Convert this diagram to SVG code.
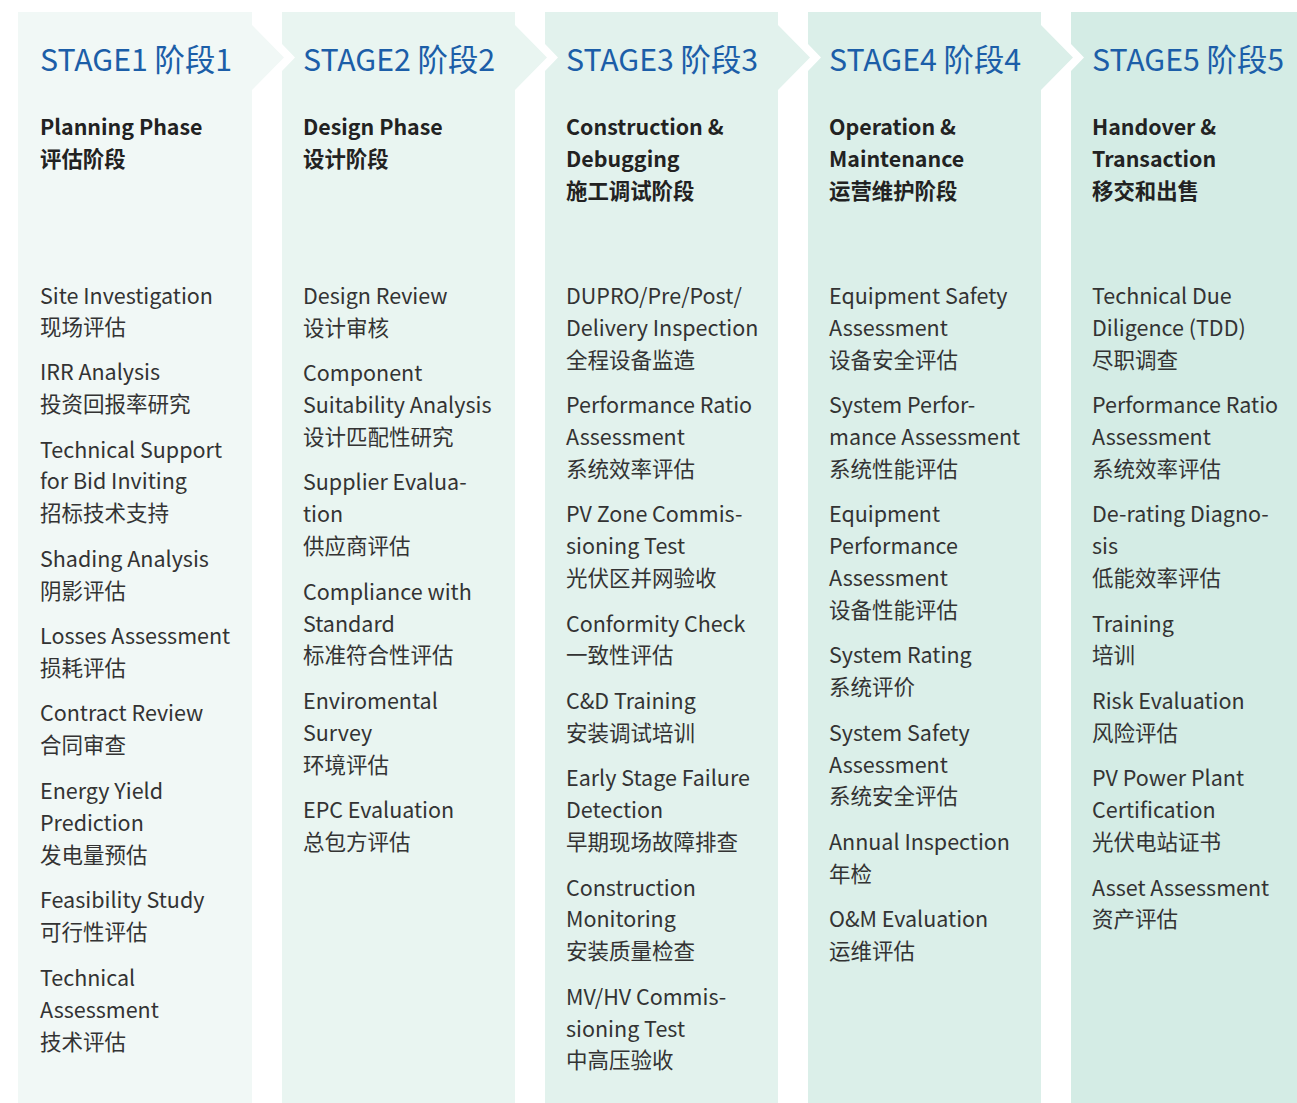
<svg xmlns="http://www.w3.org/2000/svg" width="1297" height="1103" viewBox="0 0 1297 1103">
<style>
text{font-family:"Noto Sans CJK SC","Noto Sans",sans-serif;}
.t{font-size:30.3px;fill:#1c5ea8;}
.h{font-size:21.4px;font-weight:bold;fill:#222;}
.i{font-size:21.5px;fill:#333;}
</style>
<rect width="1297" height="1103" fill="#ffffff"/>
<g id="stage1">
<polygon fill="#f1f8f6" points="18,12 252,12 252,25 284,57.5 252,90 252,1103 18,1103"/>
<text class="t" x="40" y="71">STAGE1 阶段1</text>
<text class="h" transform="translate(0,1)"><tspan x="40" y="134">Planning Phase</tspan><tspan x="40" y="166">评估阶段</tspan></text>
<text class="i" transform="translate(0,1)">
<tspan x="40" y="303">Site Investigation</tspan><tspan x="40" y="334">现场评估</tspan>
<tspan x="40" y="379">IRR Analysis</tspan><tspan x="40" y="411">投资回报率研究</tspan>
<tspan x="40" y="457">Technical Support</tspan><tspan x="40" y="488">for Bid Inviting</tspan><tspan x="40" y="520">招标技术支持</tspan>
<tspan x="40" y="566">Shading Analysis</tspan><tspan x="40" y="598">阴影评估</tspan>
<tspan x="40" y="643">Losses Assessment</tspan><tspan x="40" y="675">损耗评估</tspan>
<tspan x="40" y="720">Contract Review</tspan><tspan x="40" y="752">合同审查</tspan>
<tspan x="40" y="798">Energy Yield</tspan><tspan x="40" y="830">Prediction</tspan><tspan x="40" y="862">发电量预估</tspan>
<tspan x="40" y="907">Feasibility Study</tspan><tspan x="40" y="939">可行性评估</tspan>
<tspan x="40" y="985">Technical</tspan><tspan x="40" y="1017">Assessment</tspan><tspan x="40" y="1049">技术评估</tspan>
</text>
</g>
<g id="stage2">
<polygon fill="#e9f5f1" points="282,12 515,12 515,25 547,57.5 515,90 515,1103 282,1103 282,71 295,57.5 282,44"/>
<text class="t" x="303" y="71">STAGE2 阶段2</text>
<text class="h" transform="translate(0,1)"><tspan x="303" y="134">Design Phase</tspan><tspan x="303" y="166">设计阶段</tspan></text>
<text class="i" transform="translate(0,1)">
<tspan x="303" y="303">Design Review</tspan><tspan x="303" y="335">设计审核</tspan>
<tspan x="303" y="380">Component</tspan><tspan x="303" y="412">Suitability Analysis</tspan><tspan x="303" y="444">设计匹配性研究</tspan>
<tspan x="303" y="489">Supplier Evalua-</tspan><tspan x="303" y="521">tion</tspan><tspan x="303" y="553">供应商评估</tspan>
<tspan x="303" y="599">Compliance with</tspan><tspan x="303" y="631">Standard</tspan><tspan x="303" y="662">标准符合性评估</tspan>
<tspan x="303" y="708">Enviromental</tspan><tspan x="303" y="740">Survey</tspan><tspan x="303" y="772">环境评估</tspan>
<tspan x="303" y="817">EPC Evaluation</tspan><tspan x="303" y="849">总包方评估</tspan>
</text>
</g>
<g id="stage3">
<polygon fill="#e2f2ed" points="545,12 778,12 778,25 810,57.5 778,90 778,1103 545,1103 545,71 558,57.5 545,44"/>
<text class="t" x="566" y="71">STAGE3 阶段3</text>
<text class="h" transform="translate(0,1)"><tspan x="566" y="134">Construction &amp;</tspan><tspan x="566" y="166">Debugging</tspan><tspan x="566" y="198">施工调试阶段</tspan></text>
<text class="i" transform="translate(0,1)">
<tspan x="566" y="303">DUPRO/Pre/Post/</tspan><tspan x="566" y="335">Delivery Inspection</tspan><tspan x="566" y="367">全程设备监造</tspan>
<tspan x="566" y="412">Performance Ratio</tspan><tspan x="566" y="444">Assessment</tspan><tspan x="566" y="476">系统效率评估</tspan>
<tspan x="566" y="521">PV Zone Commis-</tspan><tspan x="566" y="553">sioning Test</tspan><tspan x="566" y="585">光伏区并网验收</tspan>
<tspan x="566" y="631">Conformity Check</tspan><tspan x="566" y="662">一致性评估</tspan>
<tspan x="566" y="708">C&amp;D Training</tspan><tspan x="566" y="740">安装调试培训</tspan>
<tspan x="566" y="785">Early Stage Failure</tspan><tspan x="566" y="817">Detection</tspan><tspan x="566" y="849">早期现场故障排查</tspan>
<tspan x="566" y="895">Construction</tspan><tspan x="566" y="926">Monitoring</tspan><tspan x="566" y="958">安装质量检查</tspan>
<tspan x="566" y="1004">MV/HV Commis-</tspan><tspan x="566" y="1036">sioning Test</tspan><tspan x="566" y="1067">中高压验收</tspan>
</text>
</g>
<g id="stage4">
<polygon fill="#dbefe9" points="808,12 1041,12 1041,25 1073,57.5 1041,90 1041,1103 808,1103 808,71 821,57.5 808,44"/>
<text class="t" x="829" y="71">STAGE4 阶段4</text>
<text class="h" transform="translate(0,1)"><tspan x="829" y="134">Operation &amp;</tspan><tspan x="829" y="166">Maintenance</tspan><tspan x="829" y="198">运营维护阶段</tspan></text>
<text class="i" transform="translate(0,1)">
<tspan x="829" y="303">Equipment Safety</tspan><tspan x="829" y="335">Assessment</tspan><tspan x="829" y="367">设备安全评估</tspan>
<tspan x="829" y="412">System Perfor-</tspan><tspan x="829" y="444">mance Assessment</tspan><tspan x="829" y="476">系统性能评估</tspan>
<tspan x="829" y="521">Equipment</tspan><tspan x="829" y="553">Performance</tspan><tspan x="829" y="585">Assessment</tspan><tspan x="829" y="617">设备性能评估</tspan>
<tspan x="829" y="662">System Rating</tspan><tspan x="829" y="694">系统评价</tspan>
<tspan x="829" y="740">System Safety</tspan><tspan x="829" y="772">Assessment</tspan><tspan x="829" y="803">系统安全评估</tspan>
<tspan x="829" y="849">Annual Inspection</tspan><tspan x="829" y="881">年检</tspan>
<tspan x="829" y="926">O&amp;M Evaluation</tspan><tspan x="829" y="958">运维评估</tspan>
</text>
</g>
<g id="stage5">
<polygon fill="#d4ece5" points="1071,12 1297,12 1297,1103 1071,1103 1071,71 1084,57.5 1071,44"/>
<text class="t" x="1092" y="71">STAGE5 阶段5</text>
<text class="h" transform="translate(0,1)"><tspan x="1092" y="134">Handover &amp;</tspan><tspan x="1092" y="166">Transaction</tspan><tspan x="1092" y="198">移交和出售</tspan></text>
<text class="i" transform="translate(0,1)">
<tspan x="1092" y="303">Technical Due</tspan><tspan x="1092" y="335">Diligence (TDD)</tspan><tspan x="1092" y="367">尽职调查</tspan>
<tspan x="1092" y="412">Performance Ratio</tspan><tspan x="1092" y="444">Assessment</tspan><tspan x="1092" y="476">系统效率评估</tspan>
<tspan x="1092" y="521">De-rating Diagno-</tspan><tspan x="1092" y="553">sis</tspan><tspan x="1092" y="585">低能效率评估</tspan>
<tspan x="1092" y="631">Training</tspan><tspan x="1092" y="662">培训</tspan>
<tspan x="1092" y="708">Risk Evaluation</tspan><tspan x="1092" y="740">风险评估</tspan>
<tspan x="1092" y="785">PV Power Plant</tspan><tspan x="1092" y="817">Certification</tspan><tspan x="1092" y="849">光伏电站证书</tspan>
<tspan x="1092" y="895">Asset Assessment</tspan><tspan x="1092" y="926">资产评估</tspan>
</text>
</g>
<g id="connectors"></g>
</svg>
